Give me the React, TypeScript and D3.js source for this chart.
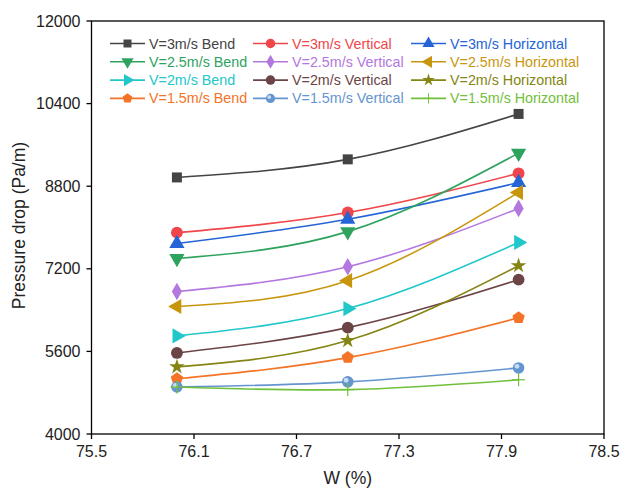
import React from "react";
import * as d3 from "d3";

const xValues = [76, 77, 78];
const seriesNames = [
  "V=3m/s Bend", "V=3m/s Vertical", "V=3m/s Horizontal",
  "V=2.5m/s Bend", "V=2.5m/s Vertical", "V=2.5m/s Horizontal",
  "V=2m/s Bend", "V=2m/s Vertical", "V=2m/s Horizontal",
  "V=1.5m/s Bend", "V=1.5m/s Vertical", "V=1.5m/s Horizontal",
];
const bend3 = [8970, 9320, 10200];
const vertical3 = [7900, 8290, 9050];
const horizontal3 = [7690, 8160, 8870];
const bend25 = [7400, 7920, 9440];
const vertical25 = [6760, 7240, 8370];
const horizontal25 = [6470, 6970, 8680];
const bend2 = [5900, 6430, 7710];
const vertical2 = [5570, 6060, 6990];
const horizontal2 = [5300, 5810, 7260];
const bend15 = [5070, 5480, 6250];
const vertical15 = [4910, 5010, 5280];
const horizontal15 = [4910, 4860, 5050];
const seriesValues = [
  bend3, vertical3, horizontal3,
  bend25, vertical25, horizontal25,
  bend2, vertical2, horizontal2,
  bend15, vertical15, horizontal15,
];
const colors = [
  "#444444", "#f0454a", "#2464d6",
  "#2ea35e", "#b377e0", "#c8960c",
  "#22c7c9", "#6b4545", "#858513",
  "#f47326", "#6595d0", "#72c03a",
];
const markers = [
  "square", "circle", "triUp",
  "triDown", "diamond", "triLeft",
  "triRight", "circle", "star",
  "pentagon", "ball", "plus",
];
const xTicks = [75.5, 76.1, 76.7, 77.3, 77.9, 78.5];
const yTicks = [4000, 5600, 7200, 8800, 10400, 12000];

const FONT = "'Liberation Sans', Arial, sans-serif";

function Marker({ kind, color, x, y, s = 1 }: { kind: string; color: string; x: number; y: number; s?: number }) {
  const t = `translate(${x},${y}) scale(${s})`;
  if (kind === "square") return <path transform={t} d={d3.symbol(d3.symbolSquare, 100)()!} fill={color} />;
  if (kind === "circle") return <path transform={t} d={d3.symbol(d3.symbolCircle, 110)()!} fill={color} />;
  if (kind === "ball")
    return (
      <g transform={t}>
        <path d={d3.symbol(d3.symbolCircle, 105)()!} fill={color} />
        <circle cx={-1.6} cy={-1.6} r={2.4} fill="#c9dcf2" />
      </g>
    );
  if (kind === "diamond") return <path transform={t} d={d3.symbol(d3.symbolDiamond, 90)()!} fill={color} />;
  if (kind === "star") return <path transform={t} d={d3.symbol(d3.symbolStar, 75)()!} fill={color} />;
  const tri = d3.symbol(d3.symbolTriangle, 100)()!;
  if (kind === "triUp") return <path transform={t} d={tri} fill={color} />;
  if (kind === "triDown") return <path transform={`${t} rotate(180)`} d={tri} fill={color} />;
  if (kind === "triLeft") return <path transform={`${t} rotate(-90)`} d={tri} fill={color} />;
  if (kind === "triRight") return <path transform={`${t} rotate(90)`} d={tri} fill={color} />;
  if (kind === "pentagon") {
    const r = 6.5;
    const pts = d3.range(5).map((i) => {
      const a = -Math.PI / 2 + (i * 2 * Math.PI) / 5;
      return [r * Math.cos(a), r * Math.sin(a)] as [number, number];
    });
    return <path transform={t} d={"M" + pts.map((p) => p.join(",")).join("L") + "Z"} fill={color} />;
  }
  if (kind === "plus")
    return (
      <g transform={t} stroke={color} strokeWidth={1.2}>
        <line x1={-6.5} x2={6.5} y1={0} y2={0} />
        <line x1={0} x2={0} y1={-6.5} y2={6.5} />
      </g>
    );
  return null;
}

export default function App() {
  const width = 630;
  const height = 497;
  const left = 91.5, right = 604, top = 21, bottom = 434;
  const x = d3.scaleLinear().domain([75.5, 78.5]).range([left, right]);
  const y = d3.scaleLinear().domain([4000, 12000]).range([bottom, top]);
  const line = d3
    .line<number>()
    .x((_, i) => x(xValues[i]))
    .y((d) => y(d))
    .curve(d3.curveNatural);

  const legendX = [110, 253, 411];
  const legendY0 = 43.5;
  const legendDy = 18.3;

  return (
    <svg width={width} height={height} style={{ position: "absolute", left: 0, top: 0 }} fontFamily={FONT}>
      <rect width={width} height={height} fill="#fff" />
      {seriesValues.map((vals, i) => (
        <path key={"l" + i} d={line(vals)!} fill="none" stroke={colors[i]} strokeWidth={1.6} />
      ))}
      {seriesValues.map((vals, i) =>
        vals.map((v, j) => (
          <Marker key={`m${i}-${j}`} kind={markers[i]} color={colors[i]} x={x(xValues[j])} y={y(v)} />
        ))
      )}
      <rect x={left} y={top} width={right - left} height={bottom - top} fill="none" stroke="#000" strokeWidth={1.3} />
      {yTicks.map((t) => (
        <g key={"y" + t}>
          <line x1={left - 5} x2={left} y1={y(t)} y2={y(t)} stroke="#000" strokeWidth={1.3} />
          <text x={left - 11} y={y(t)} dy="0.35em" textAnchor="end" fontSize={16} fill="#222">
            {t}
          </text>
        </g>
      ))}
      {xTicks.map((t) => (
        <g key={"x" + t}>
          <line x1={x(t)} x2={x(t)} y1={bottom} y2={bottom + 5} stroke="#000" strokeWidth={1.3} />
          <text x={x(t)} y={bottom + 23} textAnchor="middle" fontSize={16} fill="#222">
            {t.toFixed(1)}
          </text>
        </g>
      ))}
      <text x={(left + right) / 2} y={484} textAnchor="middle" fontSize={17.5} fill="#222">
        W (%)
      </text>
      <text
        transform={`translate(25,${(top + bottom) / 2 - 2}) rotate(-90)`}
        textAnchor="middle"
        fontSize={17.5}
        fill="#222"
      >
        Pressure drop (Pa/m)
      </text>
      {seriesNames.map((name, i) => {
        const col = i % 3;
        const row = Math.floor(i / 3);
        const lx = legendX[col];
        const ly = legendY0 + row * legendDy;
        return (
          <g key={"lg" + i}>
            <line x1={lx} x2={lx + 35} y1={ly} y2={ly} stroke={colors[i]} strokeWidth={1.6} />
            <Marker kind={markers[i]} color={colors[i]} x={lx + 17.5} y={ly} s={0.8} />
            <text x={lx + 39} y={ly} dy="0.35em" fontSize={14.3} fill={colors[i]}>
              {name}
            </text>
          </g>
        );
      })}
    </svg>
  );
}
